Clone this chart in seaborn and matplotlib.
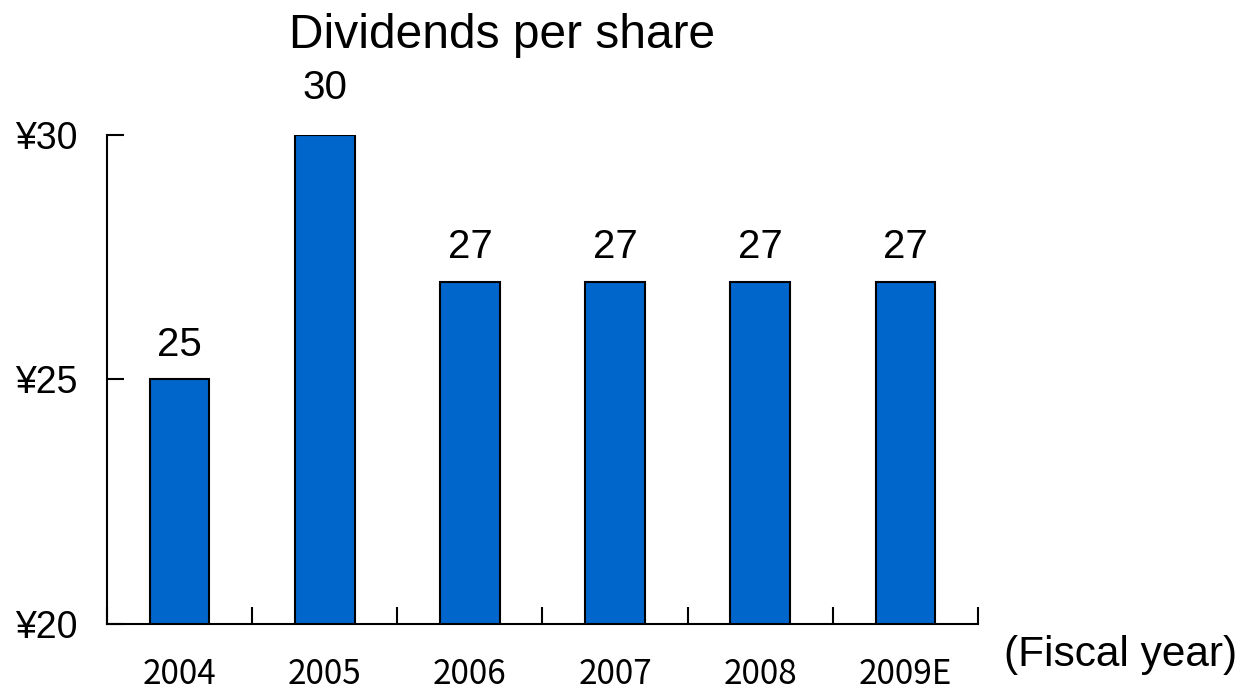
import matplotlib
matplotlib.use("Agg")
import matplotlib.pyplot as plt
import seaborn as sns
import pandas as pd

years = ["2004", "2005", "2006", "2007", "2008", "2009E"]
dividends = [25, 30, 27, 27, 27, 27]
ytick_vals = [20, 25, 30]
ytick_labels = ["¥20", "¥25", "¥30"]

sns.set_theme(style="white")
plt.rcParams['font.family'] = ['Liberation Sans', 'DejaVu Sans']
plt.rcParams['text.color'] = 'black'
plt.rcParams['xtick.color'] = 'black'
plt.rcParams['ytick.color'] = 'black'
plt.rcParams['axes.labelcolor'] = 'black'

df = pd.DataFrame({"year": years, "dividend": dividends})

fig = plt.figure(figsize=(12.42, 6.88), dpi=100)
W, H = 1242, 688
ax = fig.add_axes([107 / W, 1 - 624 / H, (978 - 107) / W, (624 - 135) / H])

sns.barplot(data=df, x="year", y="dividend", ax=ax, color="#0066CC",
            width=0.41, edgecolor="black", linewidth=1.5, saturation=1)
for p in ax.patches:
    p.set_facecolor("#0066CC")

ax.set_xlim(-0.5, len(years) - 0.5)
ax.set_ylim(20, 30)
ax.set_yticks(ytick_vals)
ax.set_yticklabels(ytick_labels, fontsize=27, color="black")
ax.set_xlabel("")
ax.set_ylabel("")

label_pad = [11, 20, 11, 11, 11, 11]
for p, v, pad in zip(ax.patches, dividends, label_pad):
    ax.annotate(str(v), (p.get_x() + p.get_width() / 2, p.get_height()),
                xytext=(0, pad), textcoords="offset points",
                ha="center", va="bottom", fontsize=29, color="black",
                annotation_clip=False)

# x ticks at category boundaries, pointing inward
ax.set_xticks([i + 0.5 for i in range(-1, len(years))], minor=True)
ax.tick_params(axis="x", which="minor", direction="in", length=12, width=1.5,
               bottom=True, color="black")
ax.tick_params(axis="x", which="major", length=0, pad=24, labelcolor="black")
for lbl in ax.get_xticklabels():
    lbl.set_family(["Noto Sans CJK JP", "DejaVu Sans"])
    lbl.set_fontsize(24)
ax.tick_params(axis="y", direction="in", length=12, width=1.5, left=True,
               color="black", pad=21, labelcolor="black")

for s in ["top", "right"]:
    ax.spines[s].set_visible(False)
for s in ["left", "bottom"]:
    ax.spines[s].set_color("black")
    ax.spines[s].set_linewidth(1.5)

fig.text(502 / W, 1 - 35 / H, "Dividends per share", ha="center", va="center",
         fontsize=34.5, color="black")
fig.text(1121 / W, 1 - 655 / H, "(Fiscal year)", ha="center", va="center",
         fontsize=30.5, color="black")

fig.savefig("out.png", dpi=100, facecolor="white")
